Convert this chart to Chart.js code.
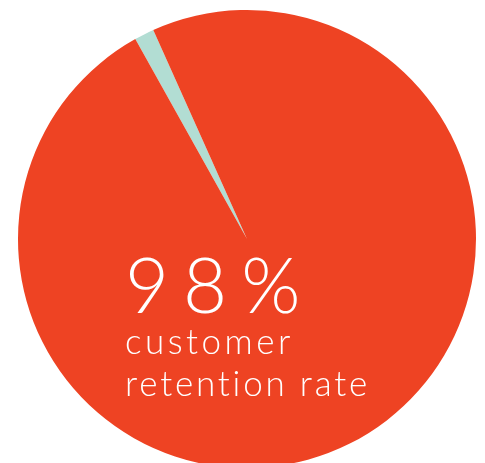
<!DOCTYPE html>
<html>
<head>
<meta charset="utf-8">
<script src="https://cdn.jsdelivr.net/npm/chart.js@4/dist/chart.umd.min.js"></script>
<style>
html,body{margin:0;padding:0;background:#fff;overflow:hidden;}
#wrap{position:relative;width:485px;height:478px;}
</style>
</head>
<body>
<div id="wrap"><canvas id="c"></canvas></div>
<script>
const categories = ["Lost customers", "Retained customers"];
const shareValues = [1.4, 98.6];
const sliceColors = ["#B2DDD3", "#EE4323"];
const headline = "98%";
const captionLines = ["customer", "retention rate"];

const textPlugin = {
  id: "centerText",
  afterDraw(chart) {
    const arc = chart.getDatasetMeta(0).data[0];
    const cx = arc.x, cy = arc.y;
    const ctx = chart.ctx;
    ctx.save();
    ctx.fillStyle = "#ffffff";
    ctx.textAlign = "left";
    ctx.textBaseline = "alphabetic";
    ctx.font = "300 76px Lato, 'Liberation Sans', sans-serif";
    ctx.letterSpacing = "14px";
    ctx.fillText(headline, cx - 122, cy + 74);
    ctx.font = "300 35px Lato, 'Liberation Sans', sans-serif";
    ctx.letterSpacing = "3.5px";
    ctx.fillText(captionLines[0], cx - 122, cy + 115);
    ctx.letterSpacing = "2.8px";
    ctx.fillText(captionLines[1], cx - 122, cy + 157);
    ctx.restore();
  }
};

new Chart(document.getElementById("c"), {
  type: "pie",
  data: {
    labels: categories,
    datasets: [{
      data: shareValues,
      backgroundColor: sliceColors,
      borderWidth: 0
    }]
  },
  options: {
    responsive: true,
    maintainAspectRatio: false,
    animation: false,
    rotation: -29.2,
    layout: { padding: { top: 10, bottom: 10, left: 9, right: 0 } },
    plugins: { legend: { display: false }, tooltip: { enabled: false } }
  },
  plugins: [textPlugin]
});
</script>
</body>
</html>
